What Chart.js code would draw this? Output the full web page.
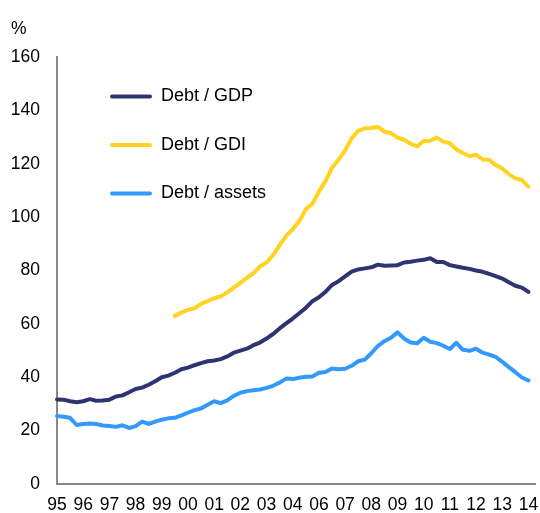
<!DOCTYPE html>
<html>
<head>
<meta charset="utf-8">
<script src="https://cdn.jsdelivr.net/npm/chart.js@4.4.1/dist/chart.umd.min.js"></script>
<style>
  html, body { margin: 0; padding: 0; background: #ffffff; }
  #wrap { width: 540px; height: 513px; }
</style>
</head>
<body>
<div id="wrap"><canvas id="c" width="540" height="513"></canvas></div>
<script>
// Year tick labels as printed on the x axis (one every four quarters)
const tickLabels = ['95','96','97','98','99','00','01','02','03','04','06','07','08','09','10','11','12','13','14'];

// Quarterly series (%)
const debtGDP = [31.7,31.6,31.0,30.6,31.0,31.8,31.2,31.3,31.6,32.8,33.2,34.4,35.6,36.1,37.2,38.5,40.0,40.6,41.7,43.0,43.6,44.5,45.3,46.0,46.3,46.8,47.8,49.2,50.0,50.7,52.0,53.0,54.5,56.2,58.3,60.2,62.0,64.0,66.0,68.5,70.0,72.0,74.6,76.0,77.8,79.6,80.4,80.8,81.2,82.2,81.8,81.9,82.0,83.0,83.3,83.7,84.0,84.6,83.2,83.2,82.0,81.5,81.0,80.6,80.0,79.5,78.7,77.9,77.0,75.6,74.3,73.6,72.0];
const debtGDI = [null,null,null,null,null,null,null,null,null,null,null,null,null,null,null,null,null,null,63.0,64.2,65.3,65.8,67.5,68.5,69.6,70.3,71.8,73.6,75.4,77.2,79.0,81.5,83.0,85.8,89.5,93.0,95.5,98.5,103.0,105.0,109.5,113.5,118.5,121.5,125.0,129.5,132.3,133.3,133.4,133.8,132.0,131.5,129.8,129.0,127.5,126.5,128.5,128.6,129.8,128.3,127.7,125.3,124.0,122.8,123.4,121.6,121.5,119.5,118.2,116.1,114.5,113.9,111.4];
const debtAssets = [25.5,25.2,24.8,22.1,22.5,22.7,22.5,21.9,21.7,21.4,22.0,21.0,21.7,23.4,22.5,23.4,24.1,24.6,24.8,25.7,26.7,27.7,28.3,29.7,31.0,30.3,31.3,33.0,34.2,34.8,35.1,35.4,36.0,36.8,38.0,39.5,39.3,39.8,40.2,40.3,41.7,42.0,43.3,43.0,43.2,44.3,46.0,46.6,49.0,51.7,53.5,54.8,56.8,54.5,53.0,52.7,54.8,53.3,52.8,51.8,50.6,52.9,50.3,49.9,50.7,49.2,48.5,47.6,45.8,43.8,41.9,39.9,38.8];

const seriesNames = ['Debt / GDP', 'Debt / GDI', 'Debt / assets'];
const seriesColors = ['#2e3470', '#ffd320', '#3399ff'];

// Category axis: each year label followed by three unlabeled quarters, plus one trailing empty slot
const categories = [];
tickLabels.forEach((t, k) => {
  categories.push(t);
  if (k < tickLabels.length - 1) { categories.push('', '', ''); }
});
categories.push('');

const FONT = "'Liberation Sans', Arial, sans-serif";

// Place the legend inside the plot area, a little in from the left axis
const legendShift = {
  id: 'legendShift',
  afterLayout(chart) {
    const l = chart.legend;
    const a = chart.chartArea;
    if (l && a) {
      const w = l.width, h = l.height;
      l.left = a.left + 22.5; l.right = l.left + w;
      l.top = a.top; l.bottom = l.top + h;
    }
  }
};

new Chart(document.getElementById('c'), {
  type: 'line',
  data: {
    labels: categories,
    datasets: [debtGDP, debtGDI, debtAssets].map((d, i) => ({
      label: seriesNames[i],
      data: d,
      borderColor: seriesColors[i],
      backgroundColor: seriesColors[i],
      borderWidth: 4,
      pointRadius: 0,
      tension: 0,
      borderCapStyle: 'round',
      borderJoinStyle: 'round',
      spanGaps: false
    }))
  },
  options: {
    responsive: false,
    animation: false,
    devicePixelRatio: 1,
    layout: { padding: { left: 11, right: 5, top: 0, bottom: 0 } },
    plugins: {
      tooltip: { enabled: false },
      title: {
        display: true,
        text: '%',
        align: 'start',
        color: '#000',
        font: { family: FONT, size: 17.5, weight: 'normal' },
        padding: { top: 18.5, bottom: 17.5 }
      },
      legend: {
        position: 'chartArea',
        align: 'start',
        labels: {
          color: '#000',
          font: { family: FONT, size: 18 },
          boxWidth: 42,
          boxHeight: 4,
          padding: 30.5,
          useBorderRadius: true,
          borderRadius: 2,
          generateLabels(chart) {
            return chart.data.datasets.map((ds, i) => ({
              text: ds.label,
              fillStyle: ds.borderColor,
              strokeStyle: ds.borderColor,
              lineWidth: 0,
              hidden: false,
              datasetIndex: i,
              borderRadius: 2,
              fontColor: '#000'
            }));
          }
        }
      }
    },
    scales: {
      x: {
        type: 'category',
        offset: false,
        grid: { display: false, drawTicks: false },
        border: { display: true, color: '#878787', width: 2 },
        afterFit(scale) { scale.height = 29; scale.paddingRight = 0; scale.paddingLeft = 0; },
        ticks: {
          autoSkip: false,
          maxRotation: 0,
          minRotation: 0,
          padding: 10.5,
          color: '#000',
          font: { family: FONT, size: 17.5 }
        }
      },
      y: {
        min: 0,
        max: 160,
        grid: { display: false, drawTicks: false },
        border: { display: true, color: '#878787', width: 2 },
        afterFit(scale) { scale.width = 46; },
        ticks: {
          stepSize: 20,
          padding: 17,
          color: '#000',
          font: { family: FONT, size: 17.5 }
        }
      }
    }
  },
  plugins: [legendShift]
});
</script>
</body>
</html>
